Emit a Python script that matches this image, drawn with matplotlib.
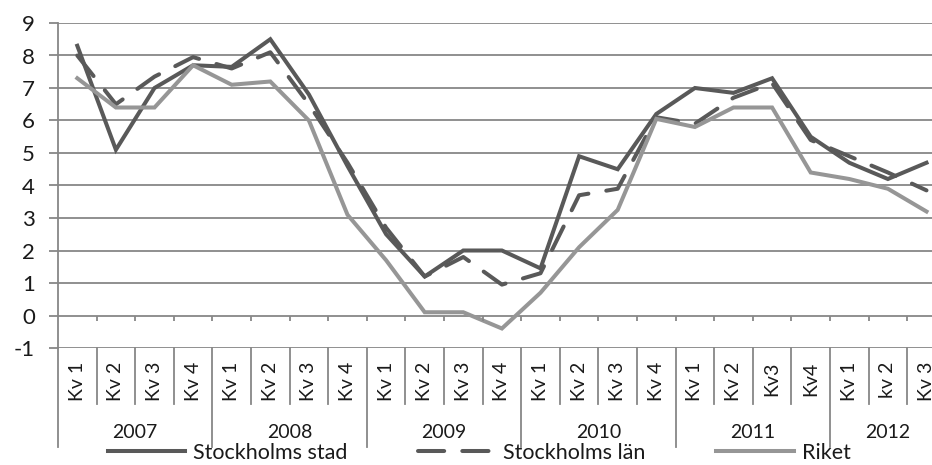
import matplotlib.pyplot as plt
import numpy as np

plt.rcParams['font.family'] = ['Lato', 'DejaVu Sans']

years = ["2007", "2008", "2009", "2010", "2011", "2012"]
quarters = ["Kv 1", "Kv 2", "Kv 3", "Kv 4",
            "Kv 1", "Kv 2", "Kv 3", "Kv 4",
            "Kv 1", "Kv 2", "Kv 3", "Kv 4",
            "Kv 1", "Kv 2", "Kv 3", "Kv 4",
            "Kv 1", "Kv 2", "Kv3", "Kv4",
            "Kv 1", "kv 2", "Kv 3"]
quarters_per_year = [4, 4, 4, 4, 4, 3]

stad = [8.3, 5.1, 7.0, 7.7, 7.65, 8.5, 6.8, 4.6, 2.5, 1.2, 2.0, 2.0,
        1.45, 4.9, 4.5, 6.2, 7.0, 6.85, 7.3, 5.5, 4.7, 4.2, 4.7]
lan = [8.0, 6.5, 7.35, 7.95, 7.6, 8.1, 6.5, 4.7, 2.7, 1.2, 1.8, 0.95,
       1.3, 3.7, 3.9, 6.1, 5.9, 6.7, 7.15, 5.4, 4.9, 4.4, 3.85]
riket = [7.3, 6.4, 6.4, 7.7, 7.1, 7.2, 6.0, 3.1, 1.7, 0.1, 0.1, -0.4,
         0.7, 2.1, 3.25, 6.05, 5.8, 6.4, 6.4, 4.4, 4.2, 3.9, 3.2]

dark = "#595959"
light = "#969696"
grid = "#878787"
txt = "#1a1a1a"

fig = plt.figure(figsize=(9.32, 4.65), dpi=100)
W, H = 932, 465
left, top, bottom = 58, 23, 348
ax = fig.add_axes([left / W, 1 - bottom / H, (W - left) / W, (bottom - top) / H])

n = len(quarters)
x = np.arange(n)
cat_w = 38.6
ax.set_xlim(-0.5, -0.5 + (W - left) / cat_w)
ax.set_ylim(-1, 9)

ax.plot(x, stad, color=dark, lw=2.9, solid_joinstyle='miter', label="Stockholms stad")
ax.plot(x, lan, color=dark, lw=2.9, dashes=(6.5, 4.5), dash_capstyle='round',
        label="Stockholms län")
ax.plot(x, riket, color=light, lw=2.9, solid_joinstyle='miter', label="Riket")

ax.set_yticks(range(-1, 10))
ax.set_yticklabels([str(v) for v in range(-1, 10)])
ax.yaxis.grid(True, color=grid, lw=1.3)
ax.set_axisbelow(True)
ax.tick_params(axis='y', length=6.5, width=1.3, color=grid, pad=10,
               labelsize=16, labelcolor=txt)
ax.set_xticks([])
for s in ["top", "right", "bottom"]:
    ax.spines[s].set_visible(False)
ax.spines["left"].set_color(grid)
ax.spines["left"].set_linewidth(1.3)

# ticks on the zero line
bounds = np.arange(n - 1) + 0.5
ax.vlines(bounds, 0, -0.18, color=grid, lw=1.3)

trans = ax.get_xaxis_transform()
def ay(py):
    return (bottom - py) / (bottom - top)

# quarter labels and separators
for i, q in enumerate(quarters):
    ax.text(i, ay(362), q, rotation=90, ha='center', va='top', fontsize=14,
            color=txt, transform=trans, clip_on=False)
year_starts = np.cumsum([0] + quarters_per_year)
for b in bounds:
    if b + 0.5 in year_starts:
        continue
    ax.plot([b, b], [0, ay(404)], color=grid, lw=1.3, transform=trans, clip_on=False)
for ys in year_starts[:-1]:
    ax.plot([ys - 0.5, ys - 0.5], [0, ay(447)], color=grid, lw=1.3,
            transform=trans, clip_on=False)
for k, yr in enumerate(years):
    c = (year_starts[k] + year_starts[k + 1] - 1) / 2
    ax.text(c, ay(432), yr, ha='center', va='center', fontsize=14,
            color=txt, transform=trans, clip_on=False)

leg = fig.legend(loc='center', bbox_to_anchor=(479 / W, 1 - 453 / H), ncol=3,
                 frameon=False, fontsize=15.5, handlelength=3.6, handletextpad=0.35,
                 columnspacing=3.3, borderpad=0, borderaxespad=0)
for t in leg.get_texts():
    t.set_color(txt)

fig.savefig("out.png", dpi=100)
